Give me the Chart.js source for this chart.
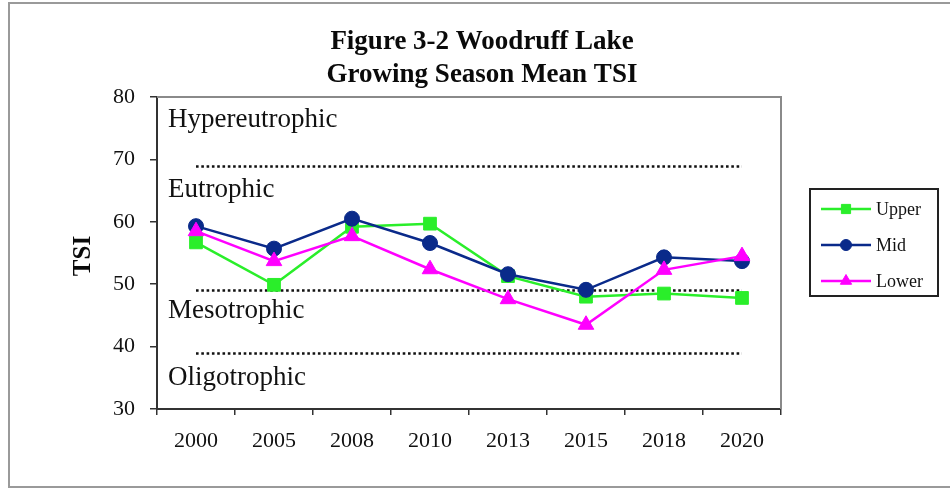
<!DOCTYPE html>
<html>
<head>
<meta charset="utf-8">
<script src="https://cdn.jsdelivr.net/npm/chart.js@4.4.1/dist/chart.umd.min.js"></script>
<style>
  html, body { margin: 0; padding: 0; background: #ffffff; }
  #wrap { width: 950px; height: 490px; }
</style>
</head>
<body>
<div id="wrap"><canvas id="c" width="950" height="490"></canvas></div>
<script>
// ---- data ----
const years = ['2000', '2005', '2008', '2010', '2013', '2015', '2018', '2020'];
const upper = [56.7, 49.9, 59.2, 59.7, 51.3, 48.0, 48.5, 47.8];
const mid   = [59.3, 55.7, 60.5, 56.6, 51.6, 49.1, 54.3, 53.7];
const lower = [58.5, 53.7, 57.7, 52.4, 47.6, 43.5, 52.3, 54.5];
const yTicks = [30, 40, 50, 60, 70, 80];
const zoneBoundaries = [69, 49, 39];
const zoneNames = ['Hypereutrophic', 'Eutrophic', 'Mesotrophic', 'Oligotrophic'];
const titleLines = ['Figure 3-2 Woodruff Lake', 'Growing Season Mean TSI'];
const yTitle = 'TSI';

const SERIF = '"Liberation Serif", "Times New Roman", serif';
const COLORS = { upper: '#2AEE2A', mid: '#0A2A8A', lower: '#FF00FF' };

// ---- plugins ----
const backgroundPlugin = {
  id: 'bg',
  beforeDraw(chart) {
    const ctx = chart.ctx;
    ctx.save();
    ctx.fillStyle = '#ffffff';
    ctx.fillRect(0, 0, chart.width, chart.height);
    ctx.strokeStyle = '#9a9a9a';
    ctx.lineWidth = 2;
    ctx.strokeRect(9, 3, chart.width + 20, 484);
    ctx.restore();
  }
};

const zonePlugin = {
  id: 'zones',
  beforeDatasetsDraw(chart, args, opts) {
    const ctx = chart.ctx;
    const xs = chart.scales.x, ys = chart.scales.y;
    const a = chart.chartArea;
    ctx.save();
    // plot frame (top & right)
    ctx.strokeStyle = '#8a8a8a';
    ctx.lineWidth = 2;
    ctx.beginPath();
    ctx.moveTo(a.left, a.top);
    ctx.lineTo(a.right, a.top);
    ctx.lineTo(a.right, a.bottom);
    ctx.stroke();
    // dotted boundary lines
    const x0 = xs.getPixelForValue(0);
    const x1 = xs.getPixelForValue(years.length - 1);
    ctx.strokeStyle = '#111111';
    ctx.lineWidth = 2.6;
    ctx.setLineDash([2.6, 2.7]);
    zoneBoundaries.forEach(v => {
      const y = Math.round(ys.getPixelForValue(v)) + 0.5;
      ctx.beginPath();
      ctx.moveTo(x0, y);
      ctx.lineTo(x1, y);
      ctx.stroke();
    });
    ctx.setLineDash([]);
    // zone names
    ctx.fillStyle = '#111111';
    ctx.font = '27px ' + SERIF;
    ctx.textAlign = 'left';
    ctx.textBaseline = 'alphabetic';
    zoneNames.forEach((name, i) => {
      ctx.fillText(name, a.left + opts.indent, ys.getPixelForValue(opts.baselines[i]));
    });
    ctx.restore();
  }
};

const textPlugin = {
  id: 'texts',
  afterDraw(chart, args, opts) {
    const ctx = chart.ctx;
    ctx.save();
    ctx.fillStyle = '#0a0a0a';
    ctx.textAlign = 'center';
    ctx.textBaseline = 'alphabetic';
    ctx.font = 'bold 27px ' + SERIF;
    titleLines.forEach((t, i) => ctx.fillText(t, opts.titleX, opts.titleY[i]));
    // y axis title
    ctx.save();
    ctx.translate(opts.yTitleX, opts.yTitleY);
    ctx.rotate(-Math.PI / 2);
    ctx.font = 'bold 25px ' + SERIF;
    ctx.textBaseline = 'middle';
    ctx.fillText(yTitle, 0, 0);
    ctx.restore();
    ctx.restore();
  }
};

const legendBoxPlugin = {
  id: 'legendBox',
  afterDraw(chart, args, opts) {
    const ctx = chart.ctx;
    const b = opts.box;
    ctx.save();
    ctx.fillStyle = '#ffffff';
    ctx.fillRect(b.x, b.y, b.w, b.h);
    ctx.strokeStyle = '#222222';
    ctx.lineWidth = 2;
    ctx.strokeRect(b.x, b.y, b.w, b.h);
    chart.data.datasets.forEach((ds, i) => {
      const y = opts.rows[i];
      ctx.strokeStyle = ds.borderColor;
      ctx.lineWidth = 2.5;
      ctx.beginPath();
      ctx.moveTo(opts.lineX0, y);
      ctx.lineTo(opts.lineX1, y);
      ctx.stroke();
      ctx.fillStyle = ds.backgroundColor;
      ctx.strokeStyle = ds.borderColor;
      ctx.lineWidth = 1;
      Chart.helpers.drawPoint(ctx, {
        pointStyle: ds.pointStyle, radius: opts.markerRadius[i], rotation: 0, borderWidth: 1
      }, (opts.lineX0 + opts.lineX1) / 2, y);
      ctx.fillStyle = '#111111';
      ctx.font = '18px ' + SERIF;
      ctx.textAlign = 'left';
      ctx.textBaseline = 'middle';
      ctx.fillText(ds.label, opts.textX, y + 1);
    });
    ctx.restore();
  }
};

// ---- chart ----
new Chart(document.getElementById('c'), {
  type: 'line',
  data: {
    labels: years,
    datasets: [
      { label: 'Upper', data: upper, borderColor: COLORS.upper, backgroundColor: COLORS.upper,
        pointStyle: 'rect', pointRadius: 9, pointBorderWidth: 1, borderWidth: 2.5, order: 3 },
      { label: 'Mid', data: mid, borderColor: COLORS.mid, backgroundColor: COLORS.mid,
        pointStyle: 'circle', pointRadius: 7.5, pointBorderWidth: 1, borderWidth: 2.5, order: 2 },
      { label: 'Lower', data: lower, borderColor: COLORS.lower, backgroundColor: COLORS.lower,
        pointStyle: 'triangle', pointRadius: 9, pointBorderWidth: 1, borderWidth: 2.5, order: 1 }
    ]
  },
  options: {
    responsive: false,
    animation: false,
    devicePixelRatio: 1,
    layout: { padding: { left: 0, top: 97, right: 169, bottom: 0 } },
    elements: { line: { tension: 0 } },
    scales: {
      x: {
        type: 'category',
        offset: true,
        afterFit: s => { s.height = 81; },
        grid: { display: true, offset: true, drawOnChartArea: false, drawTicks: true,
                tickLength: 6, color: '#333333', lineWidth: 1.5 },
        border: { display: true, color: '#333333', width: 2 },
        ticks: { color: '#111111', font: { family: SERIF, size: 22 }, padding: 13,
                 maxRotation: 0, autoSkip: false }
      },
      y: {
        min: 30, max: 80,
        afterFit: s => { s.width = 157; },
        afterBuildTicks: s => { s.ticks = yTicks.map(v => ({ value: v })); },
        grid: { display: true, drawOnChartArea: false, drawTicks: true,
                tickLength: 7, color: '#333333', lineWidth: 1.5 },
        border: { display: true, color: '#333333', width: 2 },
        ticks: { color: '#111111', font: { family: SERIF, size: 22 }, padding: 15 }
      }
    },
    plugins: {
      legend: { display: false },
      title: { display: false },
      tooltip: { enabled: false },
      zones: { indent: 11, baselines: [75.2, 64.0, 44.6, 33.8] },
      texts: { titleX: 482, titleY: [49, 82], yTitleX: 84, yTitleY: 256 },
      legendBox: {
        box: { x: 810, y: 189, w: 128, h: 107 },
        rows: [209, 245, 281],
        lineX0: 821, lineX1: 871, textX: 876,
        markerRadius: [6.5, 5.5, 6.5]
      }
    }
  },
  plugins: [backgroundPlugin, zonePlugin, textPlugin, legendBoxPlugin]
});
</script>
</body>
</html>
